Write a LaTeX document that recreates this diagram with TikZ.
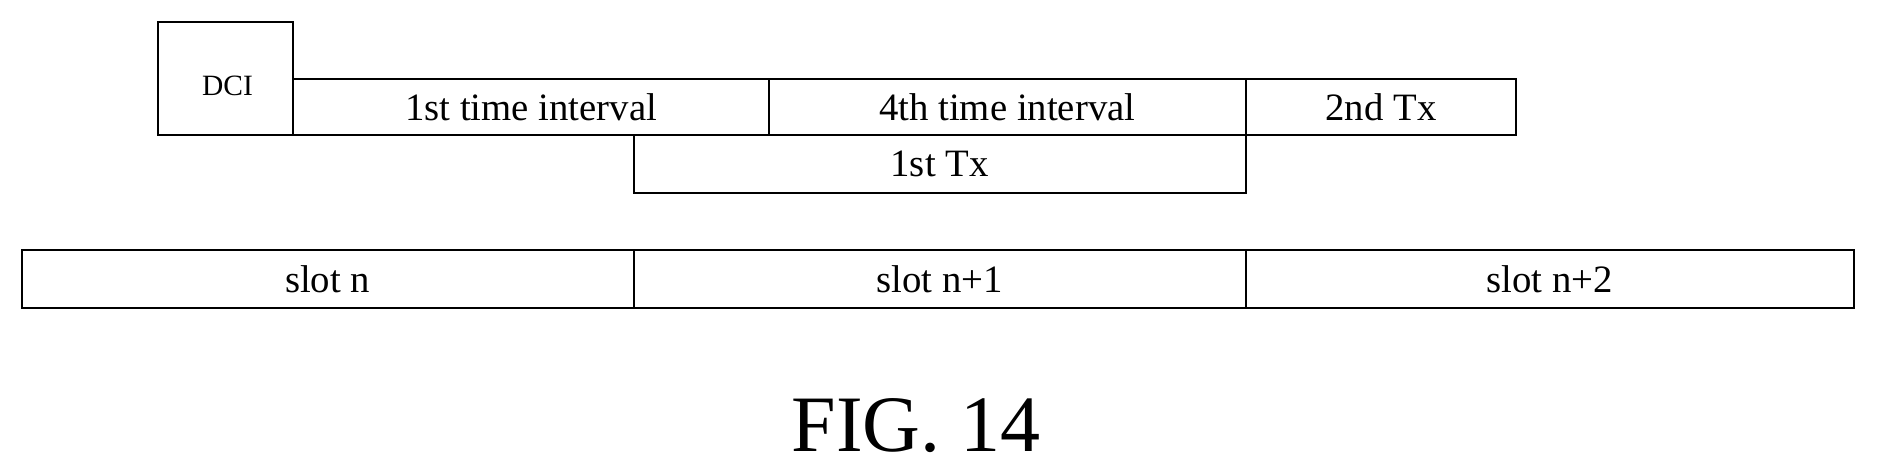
\documentclass[tikz,border=0pt]{standalone}
\usepackage{fontspec}
\setmainfont{Liberation Serif}
\begin{document}
\begin{tikzpicture}[x=0.01cm,y=-0.01cm,
  box/.style={draw,line width=0.5pt,inner sep=0pt,font=\fontsize{9.2}{10}\selectfont}]
\useasboundingbox (0,0) rectangle (1568,390);
\newcommand\bx[6]{\node[box,minimum width={(#4-#2)*0.01cm},minimum height={(#5-#3)*0.01cm}] (#1) at ({(#2+#4)/2},{(#3+#5)/2}) {#6};}
\bx{dci}{132}{18}{245}{113}{}
\node[font=\fontsize{7}{8}\selectfont] (dcit) at (190,72) {DCI};
\bx{a}{245}{66}{642}{113}{1st time interval}
\bx{b}{642}{66}{1040}{113}{4th time interval}
\bx{c}{1040}{66}{1266}{113}{2nd Tx}
\bx{d}{529}{113}{1040}{161}{1st Tx}
\bx{s0}{18}{209}{529}{257}{slot n}
\bx{s1}{529}{209}{1040}{257}{slot n+1}
\bx{s2}{1040}{209}{1548}{257}{slot n+2}
\node[font=\fontsize{19}{21}\selectfont] (fig) at (765,355) {FIG. 14};
\end{tikzpicture}
\end{document}
